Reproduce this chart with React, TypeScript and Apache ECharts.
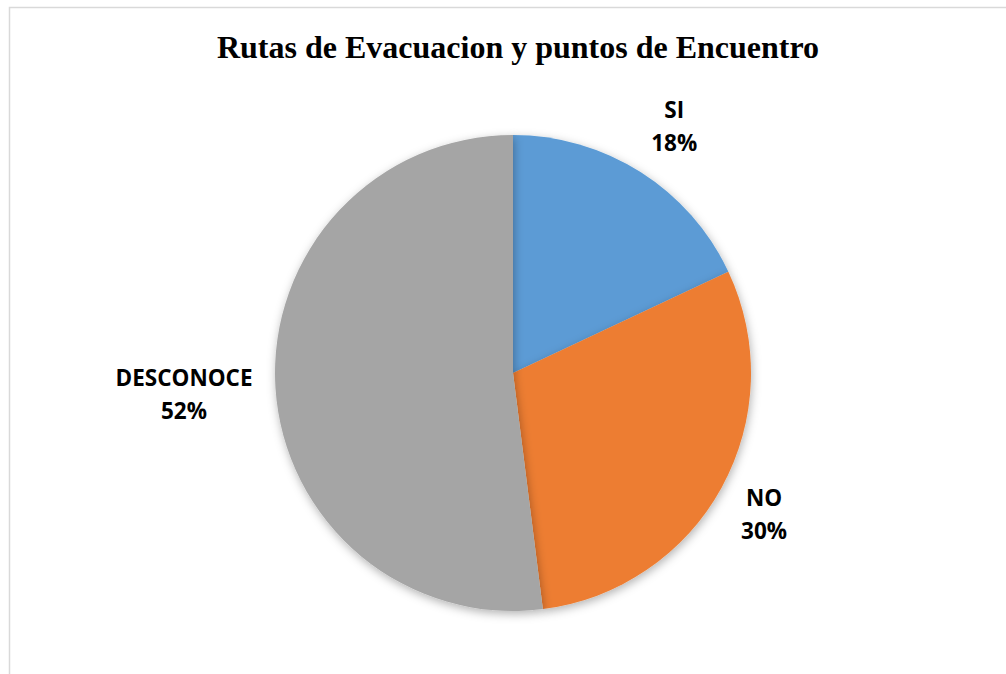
import React, { useEffect, useRef } from "react";
import * as echarts from "echarts";

const titleText = "Rutas de Evacuacion y puntos de Encuentro";
const categories = ["SI", "NO", "DESCONOCE"];
const values = [18, 30, 52];
const colors = ["#5B9BD5", "#ED7D31", "#A5A5A5"];

const W = 1006;
const H = 674;
const CX = 513;
const CY = 373;
const R = 238;
const LABEL_GAP = 20;

export default function App() {
  const ref = useRef<HTMLDivElement>(null);
  useEffect(() => {
    document.body.style.margin = "0";
    const chart = echarts.init(ref.current!, null, { renderer: "svg" });
    const total = values.reduce((a, b) => a + b, 0);
    const mids: number[] = [];
    let acc = 0;
    values.forEach((v) => {
      mids.push(((acc + v / 2) / total) * Math.PI * 2);
      acc += v;
    });
    chart.setOption({
      animation: false,
      backgroundColor: "#ffffff",
      title: {
        text: titleText,
        left: CX,
        textAlign: "center",
        top: 26,
        textStyle: {
          fontFamily: "Liberation Serif",
          fontWeight: "bold",
          fontSize: 32,
          color: "#000000",
        },
      },
      graphic: [
        {
          type: "rect",
          shape: { x: 9.5, y: 7.5, width: 1010, height: 700 },
          style: { fill: "none", stroke: "#d9d9d9", lineWidth: 1.5 },
          silent: true,
        },
      ],
      series: [
        {
          type: "pie",
          center: [CX, CY],
          radius: [0, R],
          startAngle: 90,
          clockwise: true,
          data: categories.map((c, i) => ({
            name: c,
            value: values[i],
            itemStyle: { color: colors[i] },
          })),
          itemStyle: {
            borderWidth: 0,
            shadowBlur: 10,
            shadowColor: "rgba(0,0,0,0.3)",
            shadowOffsetX: 1,
            shadowOffsetY: 3,
          },
          label: {
            show: true,
            position: "outside",
            formatter: (p: any) => `${p.name}\n${Math.round(p.percent)}%`,
            fontFamily: "Open Sans",
            fontWeight: "bold",
            fontSize: 22.5,
            lineHeight: 33,
            color: "#000000",
            align: "center",
          },
          labelLine: { show: false },
          labelLayout: (params: any) => {
            const i = params.dataIndex;
            const a = mids[i];
            const ux = Math.sin(a);
            const uy = -Math.cos(a);
            const hw = params.labelRect.width / 2;
            const hh = params.labelRect.height / 2;
            const e = Math.min(
              Math.abs(ux) > 1e-6 ? hw / Math.abs(ux) : Infinity,
              Math.abs(uy) > 1e-6 ? hh / Math.abs(uy) : Infinity
            );
            const right = ux > 0;
            const d = R + (right ? LABEL_GAP : LABEL_GAP + 3) + e;
            return {
              x: CX + d * ux + (right ? 2 : 0),
              y: CY + d * uy + (right ? 4 : 0),
              align: "center",
              verticalAlign: "middle",
            };
          },
        },
      ],
    });
    return () => chart.dispose();
  }, []);
  return <div ref={ref} style={{ width: W, height: H }} />;
}
